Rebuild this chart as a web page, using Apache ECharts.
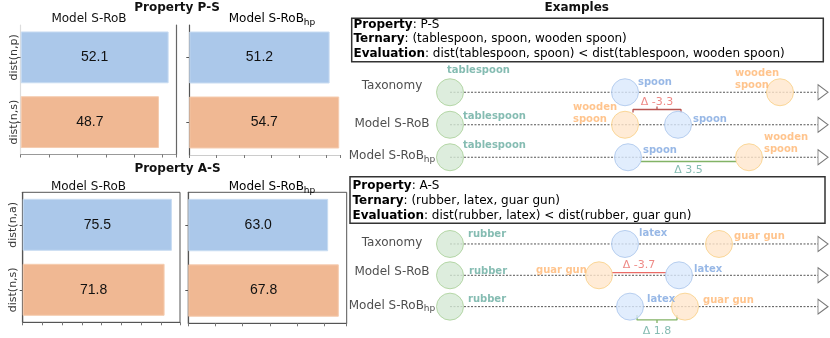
<!DOCTYPE html>
<html><head><meta charset="utf-8">
<script src="https://cdn.jsdelivr.net/npm/echarts@6/dist/echarts.min.js"></script>
<style>html,body{margin:0;padding:0;background:#fff}#c{width:830px;height:338px}</style>
</head><body><div id="c"></div>
<script>
// ---------- bar chart data ----------
const psCats = ['dist(n,p)', 'dist(n,s)'];
const asCats = ['dist(n,a)', 'dist(n,s)'];
const psSRoB = [52.1, 48.7];
const psSRoBhp = [51.2, 54.7];
const asSRoB = [75.5, 71.8];
const asSRoBhp = [63.0, 67.8];

// ---------- diagram data ----------
const rowNames = ['Taxonomy', 'Model S-RoB', 'Model S-RoB_hp'];
const ex1Terms = ['tablespoon', 'spoon', 'wooden spoon'];
const ex1Taxonomy = [0, 175, 330];
const ex1SRoB = [0, 228, 175];
const ex1SRoBhp = [0, 178, 299];
const ex1Deltas = ['Δ -3.3', 'Δ 3.5'];
const ex2Terms = ['rubber', 'latex', 'guar gun'];
const ex2Taxonomy = [0, 175, 269];
const ex2SRoB = [0, 229, 149];
const ex2SRoBhp = [0, 180, 235];
const ex2Deltas = ['Δ -3.7', 'Δ 1.8'];
const axisEnd = 373;

// ---------- styles ----------
const FONT = 'DejaVu Sans';
const BLUE_BAR = '#abc8ea', ORANGE_BAR = '#f0b893';
const wrapTerms = ['wooden spoon'];
const termStyle = [
  {fill: '#d5e8d4', stroke: '#a8cf96', text: '#67ab9f'},
  {fill: '#dae8fc', stroke: '#a9c4eb', text: '#7ea6e0'},
  {fill: '#ffe6cc', stroke: '#f9cf84', text: '#ffb570'}
];
const ex1LabelOff = [
  [[-3,-22],[13,-10],[-45,-13]],
  [[13,-8],[15,-5],[-52,-11]],
  [[13,-12],[15,-7],[15,-14]]
];
const ex2LabelOff = [
  [[18,-10],[14,-11],[15,-8]],
  [[19,-4],[15,-6],[-63,-5]],
  [[18,-7],[17,-7],[18,-6]]
];
const ex1RowLabelDy = [-5, 0, 0];
const ex2RowLabelDy = [0, -2, 0];
// delta mark styles
const ex1DeltaStyle = [
  {row:1, a:2, b:1, sa:8, sb:3, kind:'bracket', dy:-0.47, tick:0.09, mid:-0.09, ty:-0.71, line:'#b85450', txt:'#ea6b66'},
  {row:2, a:1, b:2, sa:13, sb:-13, kind:'line', dy:0.13, ty:0.39, line:'#82b366', txt:'#67ab9f'}
];
const ex2DeltaStyle = [
  {row:1, a:2, b:1, sa:13, sb:-13, kind:'line', dy:-0.086, ty:-0.31, line:'#ea6b66', txt:'#ea6b66'},
  {row:2, a:1, b:2, sa:7, sb:-8, kind:'bracket', dy:0.425, tick:-0.16, mid:0.1, ty:0.78, line:'#82b366', txt:'#67ab9f'}
];

function sub(name) {
  const parts = name.split('_');
  return parts.length > 1 ? '{m|' + parts[0] + '}{s|' + parts[1] + '}' : '{m|' + parts[0] + '}';
}
const subRich = (size) => ({
  m: {fontFamily: FONT, fontSize: size, color: '#222', lineHeight: size + 2, verticalAlign: 'top'},
  s: {fontFamily: FONT, fontSize: size - 3, color: '#222', lineHeight: size + 2, padding: [5, 0, 0, 0], verticalAlign: 'top'}
});

// ---------- grids ----------
const grids = [
  {left: 20.7, top: 25, width: 155.3, height: 129.5},
  {left: 189.3, top: 25, width: 151, height: 130},
  {left: 22.7, top: 192.3, width: 157.3, height: 130, show: true, borderColor: '#555', borderWidth: 1},
  {left: 188.3, top: 192.3, width: 158.4, height: 131, show: true, borderColor: '#555', borderWidth: 1},
  {left: 330, top: 76, width: 500, height: 97.5},
  {left: 330, top: 228.3, width: 500, height: 94}
];
function barX(gi, max, interval, lineColor) {
  return {gridIndex: gi, type: 'value', min: 0, max: max, interval: interval,
    axisLine: {show: true, lineStyle: {color: lineColor}},
    axisTick: {show: true, length: 3, lineStyle: {color: '#777'}},
    axisLabel: {show: false}, splitLine: {show: false}};
}
function barY(gi, cats, showLabel, lineColor, margin) {
  return {gridIndex: gi, type: 'category', data: cats, inverse: true,
    axisLine: {show: true, lineStyle: {color: lineColor, width: 1.2}},
    axisTick: {show: true, length: 3, alignWithLabel: true, lineStyle: {color: '#555'}},
    axisLabel: {show: showLabel, rotate: 90, fontFamily: FONT, fontSize: 11, color: '#333', margin: margin}};
}
function barSeries(gi, vals) {
  return {type: 'bar', xAxisIndex: gi, yAxisIndex: gi, barWidth: '80%',
    data: vals.map((v, i) => ({value: v, itemStyle: {color: i === 0 ? BLUE_BAR : ORANGE_BAR,
      borderColor: i === 0 ? '#c8dcf2' : '#f5ccb0', borderWidth: 1}})),
    label: {show: true, position: 'inside', formatter: p => p.value.toFixed(1),
      fontFamily: 'Liberation Sans', fontSize: 14, color: '#111'},
    silent: true};
}

const xAxes = [
  barX(0, 54.7, 10, '#999'),
  barX(1, 55.1, 10, '#ccc'),
  barX(2, 79.6, 10, '#555'),
  barX(3, 71.35, 12.25, '#555'),
  {gridIndex: 4, type: 'value', min: -120, max: 380, show: false},
  {gridIndex: 5, type: 'value', min: -120, max: 380, show: false}
];
const yAxes = [
  barY(0, psCats, true, '#ddd', 1.5),
  barY(1, psCats, false, '#555', 8),
  barY(2, asCats, true, '#555', 3.7),
  barY(3, asCats, false, '#555', 8),
  {gridIndex: 4, type: 'value', min: -0.5, max: 2.5, inverse: true, show: false},
  {gridIndex: 5, type: 'value', min: -0.5, max: 2.5, inverse: true, show: false},
  {gridIndex: 0, type: 'category', data: psCats, position: 'right',
    axisLine: {show: true, lineStyle: {color: '#666', width: 1.2}}, axisTick: {show: false}, axisLabel: {show: false}}
];

const series = [
  barSeries(0, psSRoB), barSeries(1, psSRoBhp), barSeries(2, asSRoB), barSeries(3, asSRoBhp)
];

// ---------- diagram series ----------
function diagram(gi, terms, rows, offs, rowDy, deltas, dstyles) {
  rows.forEach((pos, r) => {
    series.push({type: 'line', xAxisIndex: gi, yAxisIndex: gi, silent: true, symbol: 'none', z: 1,
      data: [[0, r], [axisEnd - 5, r]], lineStyle: {color: '#555', width: 1, type: [2, 1.5]}});
  });
  series.push({type: 'scatter', xAxisIndex: gi, yAxisIndex: gi, silent: true, z: 2,
    symbol: 'triangle', symbolRotate: -90, symbolSize: [15, 10],
    data: rows.map((p, r) => [axisEnd, r]),
    itemStyle: {color: '#fff', borderColor: '#555', borderWidth: 1}});
  // row labels
  series.push({type: 'scatter', xAxisIndex: gi, yAxisIndex: gi, silent: true, symbolSize: 1, clip: false,
    itemStyle: {color: 'rgba(0,0,0,0)'},
    data: rowNames.map((n, r) => ({value: [-58, r], label: {formatter: sub(n), offset: [0, rowDy[r]]}})),
    label: {show: true, position: 'inside', align: 'center', verticalAlign: 'middle', rich: subRich(12)}});
  // delta marks
  dstyles.forEach((d, k) => {
    const pos = rows[d.row];
    const x0 = pos[d.a] + d.sa, x1 = pos[d.b] + d.sb, y = d.row + d.dy, xm = (x0 + x1) / 2;
    const pts = d.kind === 'bracket'
      ? [[x0, y + d.tick], [x0, y], [xm, y], [xm, y + d.mid], [xm, y], [x1, y], [x1, y + d.tick]]
      : [[x0, y], [x1, y]];
    series.push({type: 'line', xAxisIndex: gi, yAxisIndex: gi, silent: true, symbol: 'none', z: 3, clip: false,
      data: pts, lineStyle: {color: d.line, width: 1.3}});
    series.push({type: 'scatter', xAxisIndex: gi, yAxisIndex: gi, silent: true, symbolSize: 1, clip: false,
      itemStyle: {color: 'rgba(0,0,0,0)'}, data: [[xm, d.row + d.ty]],
      label: {show: true, position: 'inside', formatter: deltas[k], fontFamily: FONT, fontSize: 11, color: d.txt}});
  });
  // circles
  const data = [];
  rows.forEach((pos, r) => {
    pos.forEach((x, t) => {
      const name = wrapTerms.indexOf(terms[t]) >= 0 ? terms[t].replace(' ', '\n') : terms[t];
      data.push({value: [x, r],
        itemStyle: {color: termStyle[t].fill, borderColor: termStyle[t].stroke, borderWidth: 1},
        label: {show: true, position: 'inside', align: 'left', verticalAlign: 'middle',
          offset: offs[r][t], formatter: name,
          fontFamily: FONT, fontWeight: 'bold', fontSize: 10, lineHeight: 12, color: termStyle[t].text}});
    });
  });
  series.push({type: 'scatter', xAxisIndex: gi, yAxisIndex: gi, silent: true, z: 4, clip: false,
    symbolSize: 27, data: data});
}
diagram(4, ex1Terms, [ex1Taxonomy, ex1SRoB, ex1SRoBhp], ex1LabelOff, ex1RowLabelDy, ex1Deltas, ex1DeltaStyle);
diagram(5, ex2Terms, [ex2Taxonomy, ex2SRoB, ex2SRoBhp], ex2LabelOff, ex2RowLabelDy, ex2Deltas, ex2DeltaStyle);

// ---------- texts ----------
function txt(x, y, text, size, bold) {
  return {type: 'text', x: x, y: y, silent: true, style: {text: text, fontFamily: FONT, fontSize: size,
    fontWeight: bold ? 'bold' : 'normal', fill: '#111', align: 'center', verticalAlign: 'middle'}};
}
function richTxt(x, y, text, size) {
  return {type: 'text', x: x, y: y, silent: true, style: {text: text, rich: subRich(size),
    align: 'center', verticalAlign: 'middle'}};
}
function boxLine(x, y, bold, rest) {
  return {type: 'text', x: x, y: y, silent: true, style: {
    text: '{b|' + bold + '}{n|' + rest + '}', align: 'left', verticalAlign: 'middle',
    rich: {b: {fontFamily: FONT, fontSize: 12, fontWeight: 'bold', color: '#111'},
           n: {fontFamily: FONT, fontSize: 12, color: '#111'}}}};
}
const graphic = [
  txt(177, 8, 'Property P-S', 12, true),
  txt(89, 19, 'Model S-RoB', 12, false),
  richTxt(272, 20, sub('Model S-RoB_hp'), 12),
  txt(177.5, 169, 'Property A-S', 12, true),
  txt(88.5, 187, 'Model S-RoB', 12, false),
  richTxt(272, 188, sub('Model S-RoB_hp'), 12),
  txt(576.7, 8, 'Examples', 12, true),
  {type: 'rect', silent: true, shape: {x: 351.7, y: 18.3, width: 471.6, height: 43.4},
    style: {fill: '#fff', stroke: '#333', lineWidth: 1.5}},
  boxLine(353.5, 24.5, 'Property', ': P-S'),
  boxLine(353.5, 39, 'Ternary', ': (tablespoon, spoon, wooden spoon)'),
  boxLine(353.5, 53.5, 'Evaluation', ': dist(tablespoon, spoon) < dist(tablespoon, wooden spoon)'),
  {type: 'rect', silent: true, shape: {x: 350, y: 176.7, width: 475, height: 46.6},
    style: {fill: '#fff', stroke: '#333', lineWidth: 1.5}},
  boxLine(352.5, 185.8, 'Property', ': A-S'),
  boxLine(352.5, 200.8, 'Ternary', ': (rubber, latex, guar gun)'),
  boxLine(352.5, 215.8, 'Evaluation', ': dist(rubber, latex) < dist(rubber, guar gun)')
];

const chart = echarts.init(document.getElementById('c'), null, {renderer: 'canvas'});
chart.setOption({
  animation: false,
  backgroundColor: '#fff',
  textStyle: {fontFamily: FONT},
  grid: grids, xAxis: xAxes, yAxis: yAxes, series: series, graphic: graphic
});
</script></body></html>
